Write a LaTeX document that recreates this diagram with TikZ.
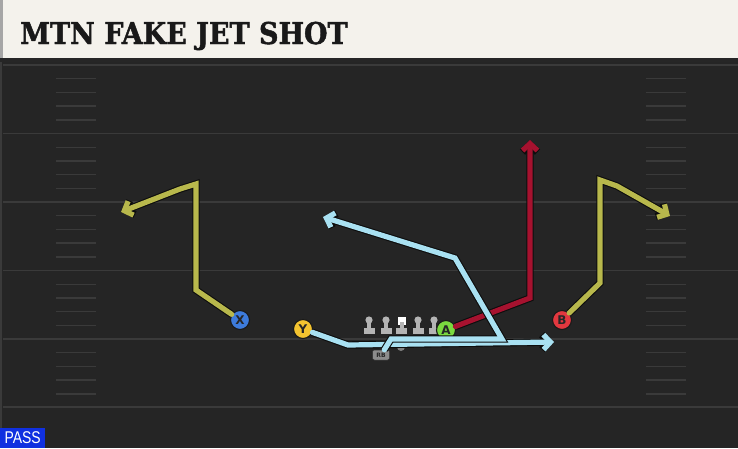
\documentclass[tikz,border=0pt]{standalone}
\usepackage{fontspec}
\setmainfont{DejaVu Sans}
\newfontfamily\titlefont{DejaVu Serif}[BoldFeatures={FakeBold=1.6}]
\newfontfamily\passfont{Liberation Sans}
\usetikzlibrary{arrows.meta}
\definecolor{fieldbg}{HTML}{252525}
\definecolor{fieldline}{HTML}{3A3A3A}
\definecolor{titlebg}{HTML}{F4F2EC}
\definecolor{passblue}{HTML}{1030E0}
\definecolor{routeolive}{HTML}{B8B84C}
\definecolor{routered}{HTML}{A6122F}
\definecolor{routeblue}{HTML}{A9E1F2}
\definecolor{xblue}{HTML}{3D7BDB}
\definecolor{yyellow}{HTML}{F4C430}
\definecolor{agreen}{HTML}{7AD93F}
\definecolor{bred}{HTML}{E2383F}
\definecolor{olgray}{HTML}{B4B4B4}
\newcommand\lineman[1]{%
  \fill[olgray] (#1,320) circle (3.6);
  \fill[olgray] (#1-2,322) rectangle (#1+2,328);
  \fill[olgray] (#1-5.5,328) rectangle (#1+5.5,333.5);}
\begin{document}
\begin{tikzpicture}[x=1pt,y=-1pt,
  player/.style={circle,draw=black!90,line width=1.1pt,minimum size=19pt,inner sep=0pt,
    font=\bfseries\fontsize{12}{12}\selectfont,text=black!85},
  route/.style={line width=5.2pt,line cap=round,
    -{Straight Barb[length=7pt 0,width=15pt 0]},
    preaction={draw=black!95,line width=7.4pt}},
  yardline/.style={draw=fieldline,line width=1.6pt},
  hash/.style={draw=fieldline,line width=1.4pt}]
\useasboundingbox (0,0) rectangle (738,448);
% field and title bar
\fill[fieldbg] (0,0) rectangle (738,448);
\draw[fieldline,line width=2pt] (1,58) -- (1,448);
\foreach \y in {65,133.5,202,270.5,339,407} \draw[yardline] (3,\y) -- (738,\y);
\foreach \y in {65,133.5,202,270.5,339} \foreach \k in {1,...,4} {
  \draw[hash] (56,{\y+\k*13.7}) -- (96,{\y+\k*13.7});
  \draw[hash] (646,{\y+\k*13.7}) -- (686,{\y+\k*13.7});}
\fill[black!85] (0,57) rectangle (738,62);
\fill[titlebg] (0,0) rectangle (738,58);
\fill[black!35] (0,0) rectangle (2.5,58);
\node[anchor=base west,inner sep=0pt,xscale=0.9,font=\titlefont\bfseries\fontsize{30}{30}\selectfont,text=black!90] (title) at (20,44) {MTN FAKE JET SHOT};
\node[anchor=south west,fill=passblue,text=white,minimum width=45pt,minimum height=20pt,inner sep=0pt,font=\passfont\fontsize{17}{17}\selectfont] (pass) at (0,448) {\scalebox{0.82}[1]{PASS}};
% line
\lineman{369} \lineman{386} \lineman{418} \lineman{434}
\fill[white] (397.5,317) rectangle (405.5,325);
\fill[olgray] (399.5,322) rectangle (403.5,328);
\fill[olgray] (396,328) rectangle (407,333.5);
% players
\node[player,fill=xblue] (X) at (240,320) {X};
\node[player,fill=yyellow] (Y) at (303,329) {Y};
\node[player,fill=agreen] (A) at (446,330) {A};
\node[player,fill=bred] (B) at (562,320) {B};
\node[circle,fill=black!50,minimum size=8pt,inner sep=0pt] (QB) at (401,347) {};
\node[rounded corners=2pt,fill=black!45,draw=black!80,line width=0.5pt,minimum width=17pt,minimum height=10pt,inner sep=0pt,
  font=\bfseries\fontsize{6}{6}\selectfont,text=black!85] (RB) at (381,355) {RB};
% route points
\coordinate (x1) at (196,290); \coordinate (x2) at (196,184); \coordinate (x3) at (180,189); \coordinate (x4) at (121,212);
\coordinate (b1) at (600,283); \coordinate (b2) at (600,180); \coordinate (b3) at (617,186); \coordinate (b4) at (670,216);
\coordinate (a1) at (530,298); \coordinate (a2) at (530,140);
\coordinate (y1) at (348,345); \coordinate (y2) at (554,342);
\coordinate (r1) at (391,339); \coordinate (r2) at (502,339); \coordinate (r3) at (455,258); \coordinate (r4) at (323,217);
% routes
\draw[route,routeolive] (X) -- (x1) -- (x2) -- (x3) -- (x4);
\draw[route,routeolive] (B) -- (b1) -- (b2) -- (b3) -- (b4);
\draw[route,routered] (A) -- (a1) -- (a2);
\draw[route,routeblue] (Y) -- (y1) -- (y2);
\draw[route,routeblue] (RB) -- (r1) -- (r2) -- (r3) -- (r4);
\end{tikzpicture}
\end{document}
